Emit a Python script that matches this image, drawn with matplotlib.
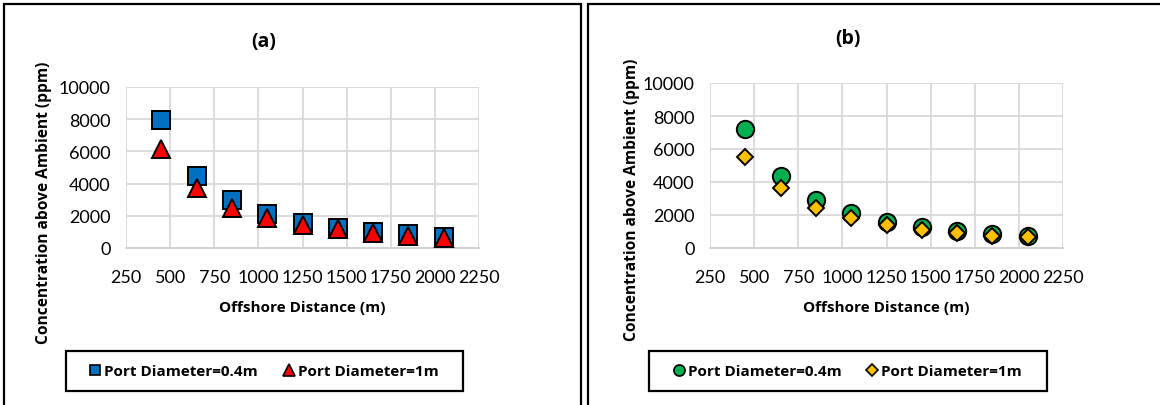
import matplotlib
matplotlib.use('Agg')
import matplotlib.pyplot as plt
from matplotlib.patches import Rectangle
from matplotlib.lines import Line2D

plt.rcParams['font.family'] = ['Lato', 'DejaVu Sans']
BOLD = ['Open Sans', 'DejaVu Sans']

# Offshore distances (m)
distance = [450, 650, 850, 1050, 1250, 1450, 1650, 1850, 2050]

# (a) concentration above ambient (ppm)
a_port_04 = [7950, 4500, 3000, 2100, 1550, 1250, 1000, 850, 700]
a_port_1 = [6150, 3700, 2500, 1850, 1450, 1150, 950, 750, 600]

# (b) concentration above ambient (ppm)
b_port_04 = [7200, 4350, 2900, 2100, 1600, 1250, 1050, 850, 750]
b_port_1 = [5500, 3650, 2450, 1800, 1400, 1100, 900, 750, 650]

labels = ['Port Diameter=0.4m', 'Port Diameter=1m']
xticks = [250, 500, 750, 1000, 1250, 1500, 1750, 2000, 2250]
yticks = [0, 2000, 4000, 6000, 8000, 10000]

W, H = 1160, 406
fig = plt.figure(figsize=(W / 100, H / 100), dpi=100)


def px_axes(x0, y0, x1, y1):
    return fig.add_axes([x0 / W, 1 - y1 / H, (x1 - x0) / W, (y1 - y0) / H])


def px_rect(x0, y0, x1, y1, lw):
    fig.patches.append(Rectangle((x0 / W, 1 - y1 / H), (x1 - x0) / W, (y1 - y0) / H,
                                 transform=fig.transFigure, fill=False,
                                 edgecolor='black', linewidth=lw, clip_on=False))


def style_axes(ax):
    ax.set_xlim(250, 2250)
    ax.set_ylim(0, 10000)
    ax.set_xticks(xticks)
    ax.set_yticks(yticks)
    ax.grid(True, color='#d9d9d9', linewidth=1.3)
    ax.set_axisbelow(True)
    for s in ax.spines.values():
        s.set_visible(False)
    ax.spines['bottom'].set_visible(True)
    ax.spines['bottom'].set_color('#d0d0d0')
    ax.spines['bottom'].set_linewidth(1.3)
    ax.tick_params(length=0, labelsize=13, colors='black')
    ax.tick_params(axis='x', pad=15)
    ax.tick_params(axis='y', pad=11)


panels = [
    dict(box=(126, 88, 479, 249), title='(a)', tpos=(264, 42),
         xl=(302, 308), yl=(44, 203), leg=(66, 352, 463, 392),
         frame=(4, 5, 581, 420),
         s1=a_port_04, s2=a_port_1,
         m1=dict(marker='s', ms=13.5, lms=7.5, color='#0070C0'),
         m2=dict(marker='^', ms=13.5, lms=8.0, color='#FF0000')),
    dict(box=(710, 84, 1063, 249), title='(b)', tpos=(848, 39),
         xl=(886, 308), yl=(632, 200), leg=(649, 352, 1047, 392),
         frame=(588, 5, 1180, 420),
         s1=b_port_04, s2=b_port_1,
         m1=dict(marker='o', ms=12.5, lms=8.0, color='#00B050'),
         m2=dict(marker='D', ms=8.0, lms=6.0, color='#FFC000')),
]

for p in panels:
    ax = px_axes(*p['box'])
    style_axes(ax)
    for vals, m, z in [(p['s1'], p['m1'], 3), (p['s2'], p['m2'], 4)]:
        ax.plot(distance, vals, linestyle='none', marker=m['marker'],
                ms=m['ms'], mfc=m['color'], mec='black', mew=1.4, zorder=z)

    fig.text(p['tpos'][0] / W, 1 - p['tpos'][1] / H, p['title'], family=BOLD,
             ha='center', va='center', fontsize=14, fontweight='bold')
    fig.text(p['xl'][0] / W, 1 - p['xl'][1] / H, 'Offshore Distance (m)', family=BOLD,
             ha='center', va='center', fontsize=11, fontweight='bold')
    fig.text(p['yl'][0] / W, 1 - p['yl'][1] / H, 'Concentration above Ambient (ppm)',
             family=BOLD, ha='center', va='center', rotation=90, fontsize=11.2,
             fontweight='bold')

    # legend handles at a smaller size than the plotted markers
    handles = [Line2D([], [], linestyle='none', marker=m['marker'], ms=m['lms'],
                      mfc=m['color'], mec='black', mew=1.2)
               for m in (p['m1'], p['m2'])]
    lx0, ly0, lx1, ly1 = p['leg']
    fig.legend(handles=handles, labels=labels, loc='center', ncol=2,
               bbox_to_anchor=((lx0 + lx1) / 2 / W, 1 - (ly0 + ly1) / 2 / H),
               bbox_transform=fig.transFigure, frameon=False,
               handlelength=0.6, handletextpad=0.3, columnspacing=1.7,
               prop=dict(family=BOLD, size=11, weight='bold'))
    px_rect(lx0, ly0, lx1, ly1, 1.6)

    px_rect(*p['frame'], 1.6)

fig.savefig('out.png', dpi=100)
